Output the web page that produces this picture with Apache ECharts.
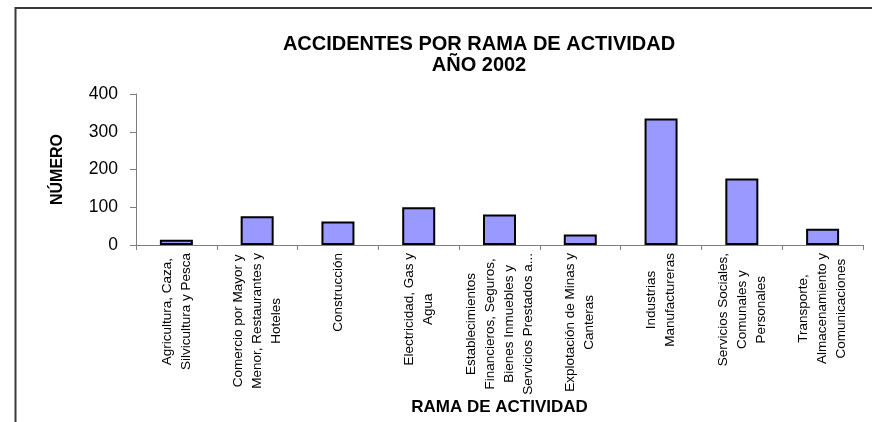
<!DOCTYPE html>
<html>
<head>
<meta charset="utf-8">
<script src="https://cdn.jsdelivr.net/npm/echarts@6/dist/echarts.min.js"></script>
<style>
  html, body { margin: 0; padding: 0; background: #fff; }
  #chart { width: 872px; height: 422px; }
</style>
</head>
<body>
<div id="chart"></div>
<script>
// ramas de actividad (saltos de línea como en el gráfico original)
var categories = [
  'Agricultura, Caza,\nSilvicultura y Pesca',
  'Comercio por Mayor y\nMenor, Restaurantes y\nHoteles',
  'Construcción',
  'Electricidad, Gas y\nAgua',
  'Establecimientos\nFinancieros, Seguros,\nBienes Inmuebles y\nServicios Prestados a...',
  'Explotación de Minas y\nCanteras',
  'Industrias\nManufactureras',
  'Servicios Sociales,\nComunales y\nPersonales',
  'Transporte,\nAlmacenamiento y\nComunicaciones'
]
var accidentes = [14, 76, 62, 100, 81, 28, 335, 176, 43]
var yTicks = [0, 100, 200, 300, 400]

var font = 'Liberation Sans, Arial, sans-serif'

var chart = echarts.init(document.getElementById('chart'))

var option = {
  animation: false,
  backgroundColor: '#fff',
  title: {
    text: 'ACCIDENTES POR RAMA DE ACTIVIDAD\nAÑO 2002',
    left: 474,
    top: 29,
    textAlign: 'center',
    textStyle: {
      fontFamily: font,
      fontSize: 20,
      fontWeight: 'bold',
      color: '#000',
      lineHeight: 21
    }
  },
  graphic: [
    {
      // marco exterior del área del gráfico
      type: 'rect',
      shape: { x: 15.5, y: 8, width: 900, height: 450 },
      style: { fill: 'none', stroke: '#3a3a3a', lineWidth: 2 },
      silent: true
    }
  ],
  grid: {
    left: 136,
    right: 9,
    top: 94,
    bottom: 177
  },
  xAxis: {
    type: 'category',
    data: categories,
    name: 'RAMA DE ACTIVIDAD',
    nameLocation: 'middle',
    nameGap: 154,
    nameTextStyle: {
      fontFamily: font,
      fontSize: 17,
      fontWeight: 'bold',
      color: '#000'
    },
    axisLine: { lineStyle: { color: '#7f7f7f', width: 1 } },
    axisTick: { show: true, alignWithLabel: false, length: 5, lineStyle: { color: '#7f7f7f' } },
    axisLabel: {
      interval: 0,
      rotate: 90,
      margin: 8,
      formatter: function(val) {
        return val.split('\n').map(function(s) { return '{c|' + s + '}' }).join('\n')
      },
      rich: {
        c: {
          fontFamily: font,
          fontSize: 13.5,
          color: '#000',
          lineHeight: 19,
          align: 'center'
        }
      }
    }
  },
  yAxis: {
    type: 'value',
    min: yTicks[0],
    max: yTicks[yTicks.length - 1],
    interval: 100,
    name: 'NÚMERO',
    nameLocation: 'middle',
    nameRotate: 90,
    nameGap: 70,
    nameTextStyle: {
      fontFamily: font,
      fontSize: 16,
      fontWeight: 'bold',
      color: '#000'
    },
    axisLine: { show: true, lineStyle: { color: '#7f7f7f', width: 1 } },
    axisTick: { show: true, length: 6, lineStyle: { color: '#7f7f7f' } },
    splitLine: { show: false },
    axisLabel: {
      margin: 18,
      fontFamily: font,
      fontSize: 17.5,
      color: '#000'
    }
  },
  series: [
    {
      name: 'accidentes',
      type: 'bar',
      data: accidentes,
      barWidth: 33,
      itemStyle: {
        color: '#9999ff',
        borderColor: '#000',
        borderWidth: 2
      }
    }
  ]
}

chart.setOption(option)
</script>
</body>
</html>
